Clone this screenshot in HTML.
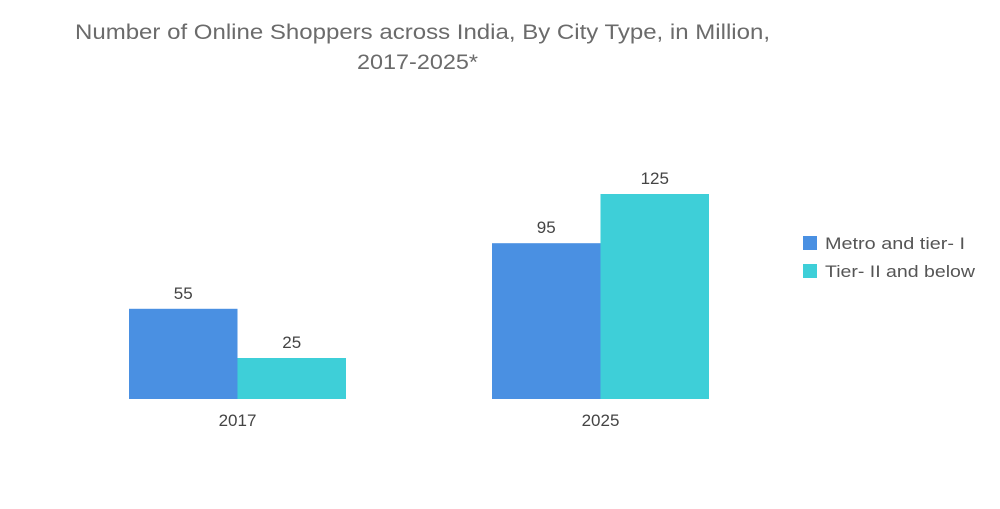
<!DOCTYPE html>
<html><head><meta charset="utf-8"><style>
html,body{margin:0;padding:0;background:#fff;}
body{width:1000px;height:504px;overflow:hidden;font-family:"Liberation Sans",sans-serif;}
</style></head><body>
<svg id="chart" width="1000" height="504" xmlns="http://www.w3.org/2000/svg">
<text x="75" y="39" font-size="21" fill="#6b6b6b" textLength="695" lengthAdjust="spacingAndGlyphs">Number of Online Shoppers across India, By City Type, in Million,</text>
<text x="357" y="69" font-size="21" fill="#6b6b6b" textLength="121" lengthAdjust="spacingAndGlyphs">2017-2025*</text>
<g id="bars"></g>
<rect x="803" y="236" width="14" height="14" fill="#4a90e2"/>
<text x="825" y="249" font-size="17" fill="#555" textLength="140" lengthAdjust="spacingAndGlyphs">Metro and tier- I</text>
<rect x="803" y="264" width="14" height="14" fill="#3ecfd8"/>
<text x="825" y="277" font-size="17" fill="#555" textLength="150" lengthAdjust="spacingAndGlyphs">Tier- II and below</text>
</svg>
<script>
const categories = ["2017", "2025"];
const metroValues = [55, 95];
const tierValues = [25, 125];
const seriesColors = ["#4a90e2", "#3ecfd8"];
const baseY = 399, scale = 1.64, groupStart = [129, 492], barW = 108.5;
function y(v){ return baseY - v*scale; }
const g = document.getElementById('bars');
const NS = "http://www.w3.org/2000/svg";
const series = [metroValues, tierValues];
categories.forEach((c, i) => {
  series.forEach((vals, s) => {
    const x = groupStart[i] + s*barW;
    const r = document.createElementNS(NS, 'rect');
    
    
    r.setAttribute('x', x); r.setAttribute('y', y(vals[i]));
    r.setAttribute('width', barW); r.setAttribute('height', vals[i]*scale);
    r.setAttribute('fill', seriesColors[s]);
    g.appendChild(r);
    const t = document.createElementNS(NS, 'text');
    
    
    t.setAttribute('x', x + barW/2); t.setAttribute('y', y(vals[i]) - 10);
    t.setAttribute('text-anchor', 'middle'); t.setAttribute('font-size', '17'); t.setAttribute('fill', '#444');
    t.textContent = vals[i];
    g.appendChild(t);
  });
  const l = document.createElementNS(NS, 'text');
  
  
  l.setAttribute('x', groupStart[i] + barW); l.setAttribute('y', 426);
  l.setAttribute('text-anchor', 'middle'); l.setAttribute('font-size', '17'); l.setAttribute('fill', '#444');
  l.textContent = c;
  g.appendChild(l);
});
</script>
</body></html>
